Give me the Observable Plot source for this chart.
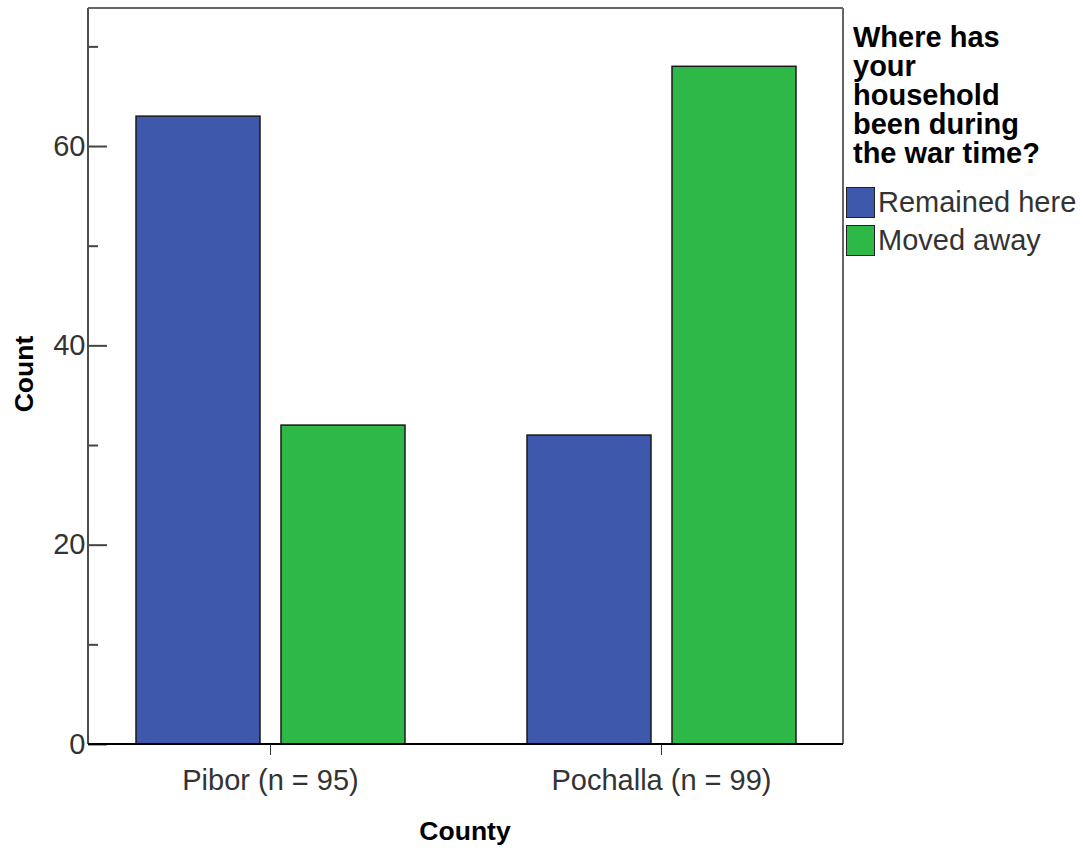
<!DOCTYPE html>
<html>
<head>
<meta charset="utf-8">
<script src="https://cdn.jsdelivr.net/npm/d3@7"></script>
<script src="https://cdn.jsdelivr.net/npm/@observablehq/plot@0.6"></script>
<style>
  html, body { margin: 0; padding: 0; background: #fff; }
  #wrap { position: relative; width: 1083px; height: 850px; font-family: "Liberation Sans", Arial, sans-serif; }
  .lbl { position: absolute; font-weight: bold; font-size: 26.5px; color: #000; white-space: nowrap; }
  #legend { position: absolute; left: 846px; top: 23px; color: #333; }
  #legend .title { font-weight: bold; font-size: 29px; line-height: 29px; margin-left: 7px; color: #000; }
  #legend .item { display: flex; align-items: center; height: 38px; font-size: 29px; }
  #legend .sw { width: 29px; height: 31px; border: 1.5px solid #222; margin-right: 3px; box-sizing: border-box; }
</style>
</head>
<body>
<div id="wrap"></div>
<script>
const counties = ["Pibor (n = 95)", "Pochalla (n = 99)"];
const series = ["Remained here", "Moved away"];
const remainedHere = [63, 31];
const movedAway = [32, 68];
const seriesColors = ["#3e58ac", "#2eb848"];
const majorTicks = [0, 20, 40, 60];
const minorTicks = [10, 30, 50, 70];
const legendTitle = ["Where has", "your", "household", "been during", "the war time?"];
const yLabel = "Count";
const xLabel = "County";

const data = [];
counties.forEach((c, i) => {
  data.push({county: c, series: series[0], count: remainedHere[i]});
  data.push({county: c, series: series[1], count: movedAway[i]});
});

const marginLeft = 88, marginRight = 240, marginTop = 8, marginBottom = 106, width = 1083, height = 850;

const plot = Plot.plot({
  width, height, marginLeft, marginRight, marginTop, marginBottom,
  style: {fontSize: "29px", fontFamily: "Liberation Sans, Arial, sans-serif", color: "#333", background: "transparent"},
  facet: {data, x: "county"},
  fx: {domain: counties, paddingInner: 0.07, paddingOuter: 0, label: null, axis: "bottom", tickSize: 11, tickPadding: 14},
  x: {domain: series, paddingInner: 0.145, paddingOuter: 0.327, axis: null},
  y: {domain: [0, 73.85], axis: null},
  color: {domain: series, range: seriesColors},
  marks: [
    Plot.barY(data, {x: "series", y: "count", fill: "series", stroke: "#1a1a1a", strokeWidth: 1.5}),
    Plot.axisY({ticks: majorTicks, tickSize: 0, tickPadding: 3, label: null}),
    Plot.axisY({ticks: majorTicks, tickSize: -19, tickFormat: () => "", label: null, stroke: "#444", strokeWidth: 2}),
    Plot.axisY({ticks: minorTicks, tickSize: -10, tickFormat: () => "", label: null, stroke: "#444", strokeWidth: 2})
  ]
});

const wrap = document.getElementById("wrap");
wrap.appendChild(plot);
plot.style.position = "absolute";
plot.style.left = "0px";
plot.style.top = "0px";

// frame around the plotting area, derived from the plot's own layout
const yr = plot.scale("y").range;
const x0 = marginLeft, x1 = width - marginRight, yb = yr[0], yt = yr[1];
const g = d3.select(plot).append("g").attr("fill", "none");
g.append("line").attr("x1", x0).attr("x2", x1).attr("y1", yt).attr("y2", yt).attr("stroke", "#666").attr("stroke-width", 2);
g.append("line").attr("x1", x1).attr("x2", x1).attr("y1", yt).attr("y2", yb).attr("stroke", "#666").attr("stroke-width", 2);
g.append("line").attr("x1", x0).attr("x2", x0).attr("y1", yt).attr("y2", yb).attr("stroke", "#4d4d4d").attr("stroke-width", 2);
g.append("line").attr("x1", x0).attr("x2", x1).attr("y1", yb).attr("y2", yb).attr("stroke", "#000").attr("stroke-width", 2);

// axis titles
const yl = document.createElement("div");
yl.className = "lbl";
yl.textContent = yLabel;
yl.style.left = "24px"; yl.style.top = "374px";
yl.style.transform = "translate(-50%, -50%) rotate(-90deg)";
wrap.appendChild(yl);
const xl = document.createElement("div");
xl.className = "lbl";
xl.textContent = xLabel;
xl.style.left = "465px"; xl.style.top = "831px";
xl.style.transform = "translate(-50%, -50%)";
wrap.appendChild(xl);

// legend
const lg = document.createElement("div");
lg.id = "legend";
const t = document.createElement("div");
t.className = "title";
t.innerHTML = legendTitle.join("<br>");
lg.appendChild(t);
const sp = document.createElement("div");
sp.style.height = "15px";
lg.appendChild(sp);
series.forEach((s, i) => {
  const it = document.createElement("div");
  it.className = "item";
  const sw = document.createElement("div");
  sw.className = "sw";
  sw.style.background = seriesColors[i];
  it.appendChild(sw);
  const tx = document.createElement("span");
  tx.textContent = s;
  it.appendChild(tx);
  lg.appendChild(it);
});
wrap.appendChild(lg);
</script>
</body>
</html>
